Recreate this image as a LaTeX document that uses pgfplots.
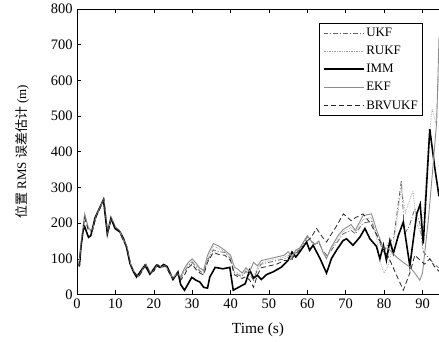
\documentclass[border=0pt]{standalone}
\usepackage{fontspec}
\setmainfont{Liberation Serif}
\newfontfamily\cjk{Noto Sans CJK SC}
\usepackage{pgfplots}
\pgfplotsset{compat=1.18}
\definecolor{ukfc}{gray}{0.40}
\definecolor{rukfc}{gray}{0.62}
\definecolor{ekfc}{gray}{0.55}
\definecolor{brvc}{gray}{0.15}
\begin{document}
\begin{tikzpicture}
\begin{axis}[
  scale only axis,
  width=362bp, height=285.5bp,
  xmin=0, xmax=94.3, ymin=0, ymax=800,
  xtick={0,10,...,90}, ytick={0,100,...,800},
  tick align=inside,
  axis x line*=box, axis y line*=left,
  y axis line style={-}, x axis line style={-},
  tick style={black, line width=0.5pt},
  major tick length=4bp,
  /pgf/number format/assume math mode=true,
  tick label style={font=\fontsize{14.5}{14.5}\selectfont},
  xticklabel style={yshift=-1bp},
  yticklabel style={xshift=-1bp},
  xlabel={Time (s)},
  ylabel={{\cjk 位置} RMS {\cjk 误差估计} (m)},
  xlabel style={font=\fontsize{15.5}{15.5}\selectfont, yshift=-7bp},
  ylabel style={font=\fontsize{13}{13}\selectfont, yshift=15bp},
  legend style={at={(0.956,0.952)}, anchor=north east, draw=black, line width=0.6pt,
    font=\fontsize{13}{13}\selectfont, inner sep=3pt, row sep=4.2pt, cells={anchor=west}},
  legend image code/.code={\draw[#1] (0bp,0bp) -- (40bp,0bp);},
  legend cell align=left,
  clip=true,
]
\coordinate (O) at (rel axis cs:0,0);
\coordinate (E) at (rel axis cs:1,1);
\addplot[ukfc, line width=0.8pt, dash pattern=on 5pt off 2pt on 1pt off 2pt] coordinates {
(0.5,80)(1,135)(2,222)(3,182)(4,178)(5,218)(7,266)(8,172)(9,213)(10,188)(11,179)(12,152)(13,132)(14,83)(15,61)(16,49)(17,66)(18,84)(19,61)(20,65)(21,83)(22,75)(23,81)(24,61)(25,44)(26,58)(27,45)(28,65)(29,80)(30,90)(31,78)(32,65)(33,60)(34,95)(35.5,125)(37,120)(38.5,118)(40,100)(41,60)(42,55)(43,50)(44,65)(45,55)(46,40)(47,70)(48,85)(50,90)(52,95)(54,100)(55,105)(56,95)(57,120)(58,128)(60,160)(61,148)(62,140)(63,145)(64,125)(65,110)(66,120)(68,150)(69.3,170)(71.4,180)(72.5,170)(74.5,200)(76.7,205)(78,170)(79.8,120)(81,140)(82.5,160)(84.5,320)(85.3,170)(86.5,190)(88,240)(89.3,200)(90.2,120)(91,110)(91.9,100)(93,85)(94.3,75)
};
\addlegendentry{UKF}
\addplot[rukfc, line width=0.7pt, densely dotted] coordinates {
(0.5,80)(1,138)(2,224)(3,184)(4,179)(5,219)(7,267)(8,173)(9,214)(10,189)(11,180)(12,153)(13,133)(14,84)(15,61)(16,50)(17,67)(18,85)(19,62)(20,66)(21,84)(22,76)(23,82)(24,62)(25,45)(26,59)(27,48)(28,70)(29,85)(30,95)(31,82)(32,70)(33,64)(34,100)(35.5,135)(37,128)(38.5,120)(40,105)(41,65)(42,60)(43,55)(44,70)(45,60)(46,50)(47,75)(48,88)(50,95)(52,100)(54,105)(55,110)(56,100)(57,122)(58,130)(60,162)(61,150)(62,142)(63,148)(64,122)(65,105)(66,124)(68,158)(69.3,176)(71.4,188)(72.5,175)(74.5,210)(76.7,215)(78,160)(79,90)(80,60)(81,80)(82,120)(83,180)(84.5,300)(85.5,230)(86.5,260)(87.5,290)(88.5,200)(89.5,170)(90.5,250)(91.5,420)(92.5,520)(93.5,480)(94.3,620)
};
\addlegendentry{RUKF}
\addplot[black, line width=1.6pt] coordinates {
(0.6,78)(1,130)(1.6,180)(2,190)(3,160)(3.6,165)(4.7,215)(6.9,266)(7.9,170)(8.85,214)(9.9,185)(11.2,175)(12.1,157)(12.9,133)(13.8,87)(14.7,64)(15.5,49)(17.7,82)(19,57)(20.7,82)(21.6,76)(22.6,84)(23.5,78)(25,42)(26.3,63)(27,28)(28,12)(29.9,48)(31,40)(32,35)(33,20)(34,18)(34.6,49)(36,76)(38,72)(39.8,76)(40.7,12)(42.4,22)(43.8,30)(45,68)(46,46)(47,54)(48,42)(49.4,56)(51,63)(53.3,77)(55,96)(56,119)(57,105)(58,119)(59.8,147)(60.6,124)(61.5,138)(63.3,101)(65,60)(66.3,101)(67.6,124)(69.3,151)(70.2,156)(71.9,138)(73.7,161)(75,185)(76.3,156)(78,135)(78.9,100)(79.8,138)(80.6,96)(81.5,151)(82.4,115)(83.7,165)(85,203)(86.7,80)(88.5,226)(89.4,253)(90.2,143)(91.9,463)(93.2,355)(94.3,275)
};
\addlegendentry{IMM}
\addplot[ekfc, line width=0.9pt] coordinates {
(0.5,80)(1,140)(2,226)(3,185)(4,180)(5,220)(7,268)(8,175)(9,215)(10,190)(11,180)(12,155)(13,135)(14,85)(15,62)(16,50)(17,68)(18,85)(19,62)(20,66)(21,84)(22,76)(23,82)(24,62)(25,45)(26,60)(27,50)(28,74)(29,90)(30,100)(31,88)(32,74)(33,68)(34,110)(35.5,143)(37,135)(38.5,124)(40,110)(41,77)(42,70)(43,60)(44,75)(45,65)(46,90)(47,80)(48,95)(50,100)(52,105)(54,110)(55,120)(56,105)(57,125)(58,130)(60,165)(61,150)(62,140)(63,150)(64,120)(65,100)(66,128)(68,165)(69.3,182)(71.4,196)(72.5,180)(74.5,221)(76.7,226)(78,182)(79.8,129)(81,130)(83.2,105)(85,90)(86.7,77)(88,60)(89.3,40)(90,60)(91.5,207)(92.5,330)(93.7,485)(94.3,720)
};
\addlegendentry{EKF}
\addplot[brvc, line width=0.8pt, dash pattern=on 5pt off 3pt] coordinates {
(0.5,80)(1,132)(2,215)(3,178)(4,178)(5,217)(7,266)(8,172)(9,212)(10,187)(11,179)(12,152)(13,132)(14,82)(15,61)(16,49)(17,66)(18,84)(19,61)(20,65)(21,83)(22,75)(23,81)(24,61)(25,44)(26,60)(27,40)(28,55)(29,75)(30,85)(31,70)(32,60)(33,55)(34,90)(35.5,118)(37,112)(38.5,110)(40,95)(41,55)(42,50)(43,45)(44,50)(45,40)(46,20)(47,55)(48,75)(50,80)(52,85)(54,95)(55,95)(56,100)(57,115)(58,125)(60,150)(61,160)(62.4,185)(64,160)(65,147)(66,165)(67.5,190)(69.4,226)(71.4,207)(72.5,215)(74.5,226)(76.4,200)(78.9,150)(80,130)(81.5,96)(83,60)(85,12)(86.7,60)(88,110)(89.5,95)(90.5,85)(91.9,100)(93,80)(94.3,65)
};
\addlegendentry{BRVUKF}
\end{axis}
\pgfresetboundingbox
\path ([shift={(-77bp,-47.5bp)}]O) rectangle ([shift={(0bp,9bp)}]E);
\end{tikzpicture}
\end{document}
